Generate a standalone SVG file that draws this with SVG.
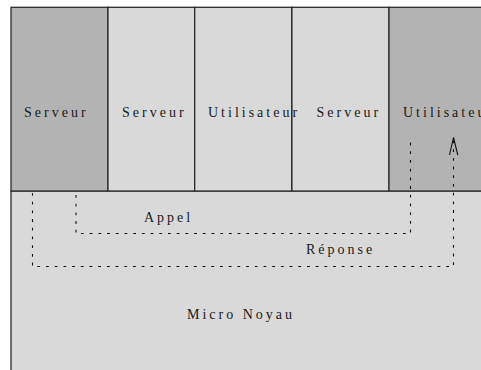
<svg xmlns="http://www.w3.org/2000/svg" width="481" height="370" viewBox="0 0 481 370">
<style>
.box{stroke:#2b2b2b;stroke-width:1.3}
.dark{fill:#b3b3b3}
.light{fill:#d9d9d9}
text{font-family:"Liberation Serif","Times New Roman",serif;font-size:14px;letter-spacing:3px;fill:#1a1a1a}
.dot{fill:none;stroke:#111;stroke-width:1.1;stroke-dasharray:2.8 5.9}
.arr{fill:none;stroke:#111;stroke-width:1.1}
</style>
<rect width="481" height="370" fill="#ffffff"/>
<g id="noyau">
<rect class="box light" x="11" y="191" width="490" height="200"/>
<text x="187" y="319">Micro Noyau</text>
</g>
<g id="serveur1">
<rect class="box dark" x="11" y="7.3" width="97" height="183.7"/>
<text x="24" y="117">Serveur</text>
</g>
<g id="serveur2">
<rect class="box light" x="108" y="7.3" width="86.7" height="183.7"/>
<text x="122" y="117">Serveur</text>
</g>
<g id="serveur3">
<rect class="box light" x="291.7" y="7.3" width="97.3" height="183.7"/>
<text x="316.5" y="117">Serveur</text>
</g>
<g id="utilisateur1">
<rect class="box light" x="194.7" y="7.3" width="97" height="183.7"/>
<text x="208" y="117">Utilisateur</text>
</g>
<g id="utilisateur2">
<rect class="box dark" x="389" y="7.3" width="110" height="183.7"/>
<text x="403" y="117">Utilisateur</text>
</g>
<g id="connectors">
<path class="dot" d="M76 195 V233.5 H410.5 V138"/>
<path class="dot" d="M32.5 193 V266.5 H453.5 V140"/>
<path class="arr" d="M449.5 155 L453.5 137.5 L457.8 155"/>
<text x="144" y="221.5">Appel</text>
<text x="306" y="254">Réponse</text>
</g>
</svg>
